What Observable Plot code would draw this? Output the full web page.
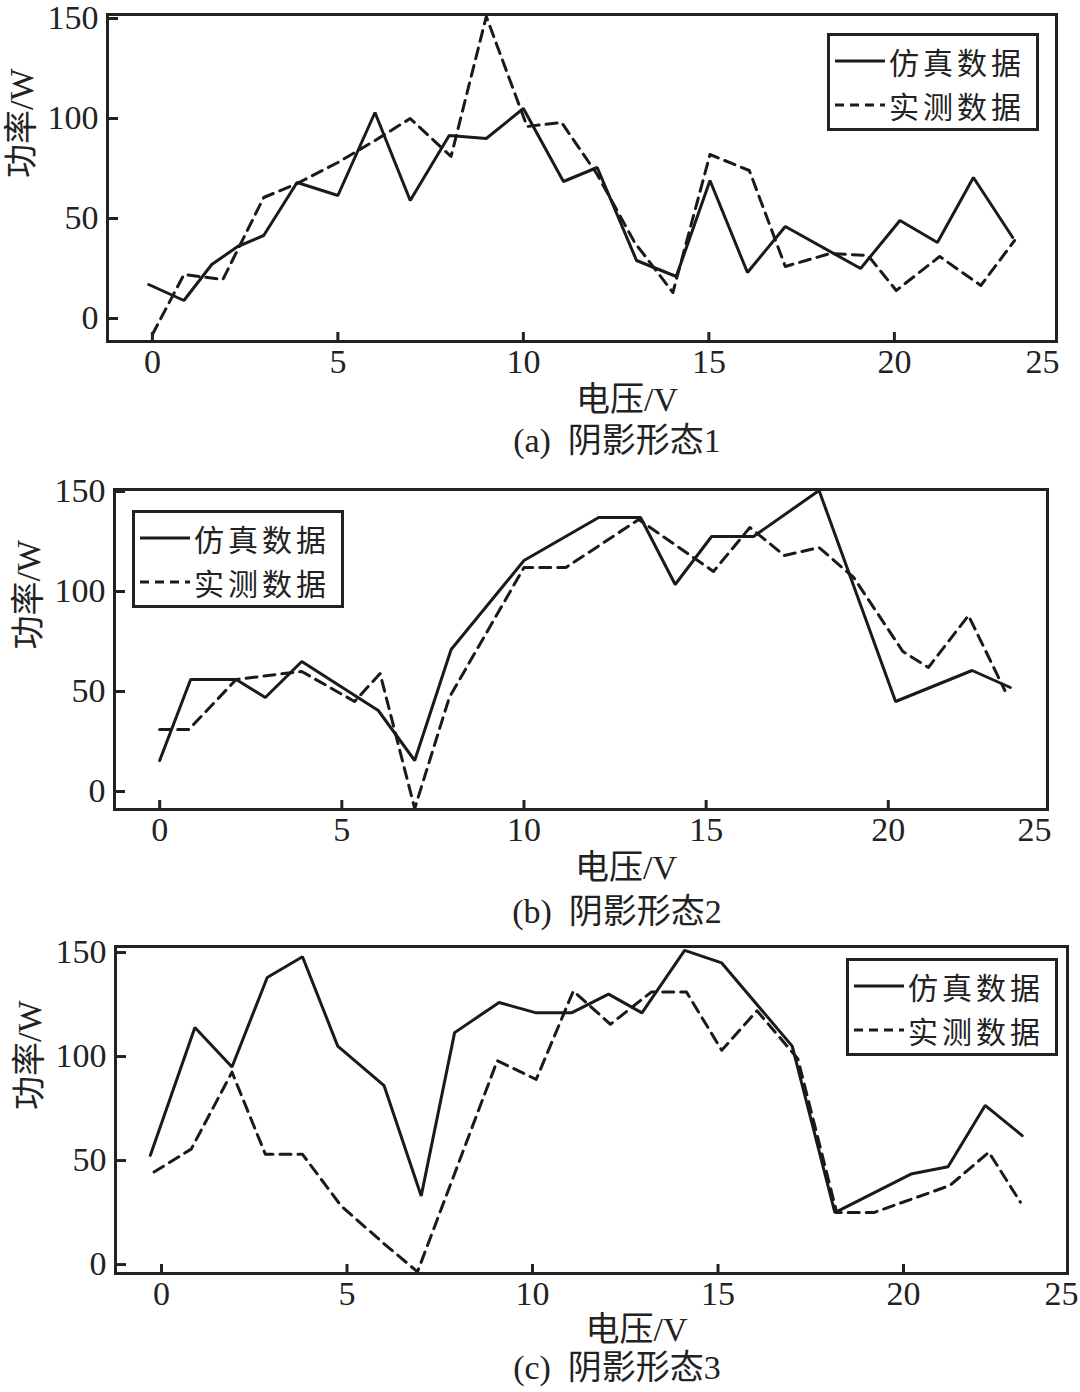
<!DOCTYPE html>
<html><head><meta charset="utf-8">
<script src="https://cdn.jsdelivr.net/npm/d3@7"></script>
<script src="https://cdn.jsdelivr.net/npm/@observablehq/plot@0.6"></script>
<style>
body{margin:0;background:#fff;}
#root{position:relative;width:1080px;height:1392px;overflow:hidden;background:#fff;color:#222;font-family:"Liberation Serif","Noto Sans CJK SC",serif;}
.panel{position:absolute;left:0;}
.caption{position:absolute;left:77px;width:1080px;text-align:center;font-size:34px;line-height:34px;white-space:pre;font-family:"Liberation Serif","Noto Sans CJK SC",serif;color:#222;}
.legend{position:absolute;}
</style>
</head><body><div id="root"></div>
<script>
// ---- shared labels ----
const xTicks = [0, 5, 10, 15, 20];
const xEndLabel = "25";
const yTicks = [0, 50, 100, 150];
const seriesNames = ["仿真数据", "实测数据"];
const xLabel = "电压/V";
const yLabel = "功率/W";
const captions = ["(a)\u2002阴影形态1", "(b)\u2002阴影形态2", "(c)\u2002阴影形态3"];

// ---- panel (a) ----
const simA_x = [-0.1, 0.85, 1.6, 2.3, 3.0, 3.9, 5.0, 6.0, 6.95, 8.0, 9.0, 10.0, 11.08, 11.99, 13.05, 14.12, 15.03, 16.04, 17.06, 19.09, 20.15, 21.16, 22.13, 23.19];
const simA_y = [17, 9, 27, 36, 41.5, 68, 61.5, 103, 59, 91.5, 90, 105, 68.5, 75.5, 29, 21, 69, 23, 46, 25, 49, 38, 70.5, 40.5];
const meaA_x = [0, 0.85, 1.9, 3.0, 3.9, 5.0, 6.0, 6.95, 8.05, 9.0, 10.1, 11.03, 11.99, 13.0, 14.03, 15.03, 16.09, 17.06, 18.27, 19.29, 20.05, 21.22, 22.33, 23.24];
const meaA_y = [-8, 22, 19.5, 60.5, 67.5, 78, 89, 100, 81, 151, 96, 98, 72, 38, 13, 82, 74, 26, 32.5, 31.5, 14, 31, 16.5, 39];

// ---- panel (b) ----
const simB_x = [0, 0.85, 2.1, 2.9, 3.9, 6.0, 7.0, 8.0, 10.0, 12.05, 13.2, 14.15, 15.15, 16.3, 18.1, 20.2, 22.3, 23.35];
const simB_y = [15.5, 56, 56, 47, 65, 40.5, 15.5, 71, 115.5, 137, 137, 103.5, 127.5, 127.5, 150.5, 45, 60.5, 52];
const meaB_x = [0, 0.8, 2.1, 3.2, 3.9, 5.35, 6.05, 7.0, 7.95, 10.0, 11.15, 13.15, 15.2, 16.2, 17.15, 18.1, 19.05, 20.4, 21.1, 22.2, 23.2];
const meaB_y = [31, 31, 56, 58.5, 60, 45, 59, -8.5, 47, 112, 112, 136, 110, 132, 118, 122, 107, 70, 62, 88, 50.5];

// ---- panel (c) ----
const simC_x = [-0.3, 0.9, 1.9, 2.85, 3.8, 4.75, 6.0, 7.0, 7.9, 9.1, 10.1, 11.05, 12.05, 12.95, 14.1, 15.1, 17.0, 18.15, 20.2, 21.2, 22.2, 23.2];
const simC_y = [52.5, 114, 95, 138, 148, 105, 86, 33, 111.5, 126, 121, 121, 130, 121, 151, 145, 105, 25, 43.5, 47, 76.5, 62];
const meaC_x = [-0.2, 0.8, 1.9, 2.8, 3.8, 4.85, 6.0, 6.9, 9.05, 10.1, 11.1, 12.1, 13.2, 14.15, 15.1, 16.05, 17.15, 18.2, 19.2, 21.25, 22.3, 23.15];
const meaC_y = [44.5, 55.5, 92.5, 53, 53, 28, 10, -3.5, 98, 89, 131.5, 115.5, 131, 131, 103, 122, 99, 25, 25, 38, 54, 30];

// ---- layout ----
const panels = [
  {simX: simA_x, simY: simA_y, meaX: meaA_x, meaY: meaA_y, top: 0, height: 420,
   mt: 14, mb: 79, ml: 107, mr: 24, xDomain: [-1.21, 24.37], yDomain: [-11.5, 152],
   endDx: 3, xLabelDy: 59, legend: [827, 33], capTop: 424},
  {simX: simB_x, simY: simB_y, meaX: meaB_x, meaY: meaB_y, top: 460, height: 434,
   mt: 29, mb: 85, ml: 114, mr: 33, xDomain: [-1.24, 24.37], yDomain: [-9, 151],
   endDx: 4, xLabelDy: 59, legend: [132, 510], capTop: 895},
  {simX: simC_x, simY: simC_y, meaX: meaC_x, meaY: meaC_y, top: 932, height: 413,
   mt: 14, mb: 72, ml: 115, mr: 13, xDomain: [-1.24, 24.42], yDomain: [-4.3, 152.9],
   endDx: 11, xLabelDy: 57, legend: [846, 958], capTop: 1351}
];

const root = document.getElementById("root");
const serif = '"Liberation Serif","Noto Sans CJK SC",serif';
const ink = "#1a1a1a";

panels.forEach((cfg, k) => {
  const sim = cfg.simX.map((x, i) => ({x, y: cfg.simY[i]}));
  const mea = cfg.meaX.map((x, i) => ({x, y: cfg.meaY[i]}));
  const plot = Plot.plot({
    width: 1080, height: cfg.height,
    marginTop: cfg.mt, marginBottom: cfg.mb, marginLeft: cfg.ml, marginRight: cfg.mr,
    style: {fontFamily: serif, fontSize: "34px", color: "#222", background: "transparent", overflow: "visible"},
    x: {domain: cfg.xDomain},
    y: {domain: cfg.yDomain},
    marks: [
      Plot.line(sim, {x: "x", y: "y", stroke: ink, strokeWidth: 3, strokeLinejoin: "miter"}),
      Plot.line(mea, {x: "x", y: "y", stroke: ink, strokeWidth: 3, strokeDasharray: "11,7"}),
      Plot.axisX({ticks: xTicks, tickSize: -9, tickPadding: 16, strokeWidth: 3, label: null, fontSize: 34}),
      Plot.axisY({ticks: yTicks, tickSize: -11, tickPadding: 20, strokeWidth: 3, label: null, fontSize: 34}),
      Plot.text([xEndLabel], {x: () => cfg.xDomain[1], frameAnchor: "bottom", textAnchor: "end", lineAnchor: "top", dx: cfg.endDx, dy: 7, fontSize: 34, fill: "#222"}),
      Plot.text([xLabel], {frameAnchor: "bottom", lineAnchor: "middle", dx: 45, dy: cfg.xLabelDy, fontSize: 34, fill: "#222"}),
      Plot.text([yLabel], {frameAnchor: "left", rotate: -90, lineAnchor: "middle", dx: -85, fontSize: 34, fill: "#222"}),
      Plot.frame({stroke: "#222", strokeWidth: 3})
    ]
  });
  plot.classList.add("panel");
  plot.style.top = cfg.top + "px";
  root.appendChild(plot);

  // legend
  const lg = d3.select(root).append("svg").attr("class", "legend")
    .attr("width", 212).attr("height", 98)
    .style("left", cfg.legend[0] + "px").style("top", cfg.legend[1] + "px");
  lg.append("rect").attr("x", 1.5).attr("y", 1.5).attr("width", 209).attr("height", 95)
    .attr("fill", "#fff").attr("stroke", "#222").attr("stroke-width", 3);
  seriesNames.forEach((name, i) => {
    const cy = 28 + i * 44;
    lg.append("line").attr("x1", 8).attr("x2", 58).attr("y1", cy).attr("y2", cy)
      .attr("stroke", ink).attr("stroke-width", 3)
      .attr("stroke-dasharray", i === 0 ? null : "9,6");
    lg.append("text").attr("x", 62).attr("y", cy).attr("dominant-baseline", "central")
      .attr("font-family", '"Noto Sans CJK SC",sans-serif').attr("font-size", 30)
      .attr("letter-spacing", "4px")
      .attr("fill", "#222").text(name);
  });

  const cap = document.createElement("div");
  cap.className = "caption";
  cap.style.top = cfg.capTop + "px";
  cap.textContent = captions[k];
  root.appendChild(cap);
});
</script>
</body></html>
